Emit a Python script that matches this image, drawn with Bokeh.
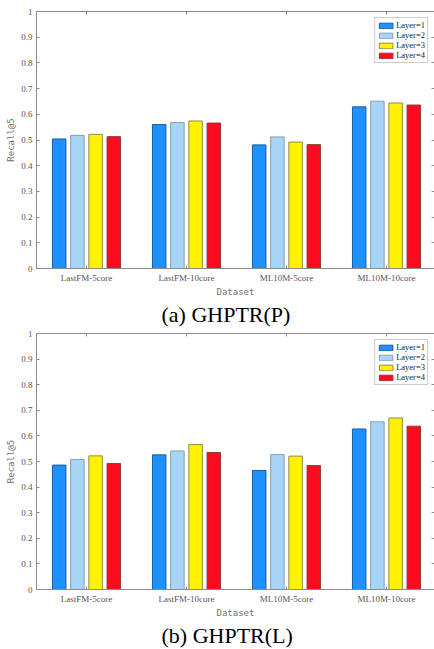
from bokeh.plotting import figure
from bokeh.models import (ColumnDataSource, Range1d, FixedTicker, LinearAxis,
                          CustomJSTickFormatter, Title)
from bokeh.transform import dodge
from bokeh.layouts import column
from bokeh.embed import file_html
from bokeh.resources import INLINE

# ---------------- data ----------------
datasets = ["LastFM-5core", "LastFM-10core", "ML10M-5core", "ML10M-10core"]
layer_names = ["Layer=1", "Layer=2", "Layer=3", "Layer=4"]

p_layer1 = [0.504, 0.560, 0.481, 0.629]
p_layer2 = [0.518, 0.568, 0.512, 0.651]
p_layer3 = [0.522, 0.574, 0.492, 0.644]
p_layer4 = [0.513, 0.566, 0.482, 0.636]

l_layer1 = [0.486, 0.526, 0.465, 0.627]
l_layer2 = [0.508, 0.541, 0.527, 0.655]
l_layer3 = [0.522, 0.566, 0.521, 0.670]
l_layer4 = [0.492, 0.535, 0.484, 0.638]

y_ticks = [0, 0.1, 0.2, 0.3, 0.4, 0.5, 0.6, 0.7, 0.8, 0.9, 1.0]

fills = ["#1E90FF", "#A6D5F7", "#FFF200", "#FF0A1E"]
edges = ["#1B5C9E", "#8A9FB0", "#8E8C4E", "#8A3A3A"]
offsets = [-0.273, -0.091, 0.091, 0.273]

AX = "#8a8a8a"
TXT = "#555555"
SERIF = "Liberation Serif"
MONO = "DejaVu Sans Mono"


def make_panel(series, caption, top_border, frame_h, bottom_border):
    xs = list(range(1, len(datasets) + 1))
    data = {"x": xs}
    for i, s in enumerate(series):
        data["l%d" % i] = s
    src = ColumnDataSource(data)

    p = figure(frame_width=398, frame_height=frame_h,
               x_range=Range1d(0.5, 4.48), y_range=Range1d(0, 1),
               output_backend="svg", toolbar_location=None,
               min_border_left=36, min_border_right=0,
               min_border_top=top_border, min_border_bottom=bottom_border,
               background_fill_color="white", border_fill_color="white")
    p.outline_line_color = None
    p.grid.visible = False

    for i in range(4):
        p.vbar(x=dodge("x", offsets[i], range=p.x_range), top="l%d" % i,
               width=0.135, source=src, fill_color=fills[i],
               line_color=edges[i], line_width=1, legend_label=layer_names[i])

    # bottom axis
    xa = p.xaxis[0]
    xa.ticker = FixedTicker(ticks=xs)
    xa.major_label_overrides = {x: d for x, d in zip(xs, datasets)}
    xa.axis_label = "Dataset"
    # left axis
    ya = p.yaxis[0]
    ya.ticker = FixedTicker(ticks=y_ticks)
    ya.formatter = CustomJSTickFormatter(
        code="return tick.toFixed(1).replace(/\\.0$/, '');")
    ya.axis_label = "Recall@5"

    for ax in (xa, ya):
        ax.axis_line_color = AX
        ax.major_tick_line_color = AX
        ax.major_tick_in = 3
        ax.major_tick_out = 0
        ax.minor_tick_line_color = None
        ax.major_label_text_font = SERIF
        ax.major_label_text_font_size = "9px"
        ax.major_label_text_color = TXT
        ax.axis_label_text_font = MONO
        ax.axis_label_text_font_size = "9px"
        ax.axis_label_text_font_style = "normal"
        ax.axis_label_text_color = "#707070"
    xa.major_label_standoff = 4
    xa.axis_label_standoff = 1
    ya.major_label_standoff = 4
    ya.axis_label_standoff = 2

    # top and right box axes (minor ticks only, no labels)
    top = LinearAxis(ticker=FixedTicker(ticks=[], minor_ticks=xs))
    right = LinearAxis(ticker=FixedTicker(ticks=[], minor_ticks=y_ticks))
    for ax in (top, right):
        ax.major_tick_line_color = None
        ax.minor_tick_in = 3
        ax.minor_tick_out = 0
        ax.minor_tick_line_color = AX
        ax.axis_line_color = AX
        ax.major_label_standoff = 0
    right.axis_line_alpha = 0
    p.add_layout(top, "above")
    p.add_layout(right, "right")

    # legend
    lg = p.legend[0]
    lg.location = "top_right"
    lg.margin = 6
    lg.padding = 2
    lg.spacing = 0
    lg.glyph_width = 17
    lg.glyph_height = 7
    lg.label_height = 8
    lg.label_standoff = 2
    lg.label_text_font = SERIF
    lg.label_text_font_size = "8.5px"
    lg.label_text_color = "#222222"
    lg.border_line_color = "#999999"
    lg.border_line_width = 1
    lg.background_fill_alpha = 1

    # caption
    cap = Title(text=caption, align="left", offset=125,
                text_font=SERIF, text_font_size="22px",
                text_font_style="normal", text_color="black", standoff=0)
    p.add_layout(cap, "below")
    return p


pa = make_panel([p_layer1, p_layer2, p_layer3, p_layer4], "(a) GHPTR(P)", 11, 257, 61)
pb = make_panel([l_layer1, l_layer2, l_layer3, l_layer4], "(b) GHPTR(L)", 4, 256, 61)

layout = column(pa, pb, spacing=0)
open("out.html", "w").write(file_html(layout, INLINE))
